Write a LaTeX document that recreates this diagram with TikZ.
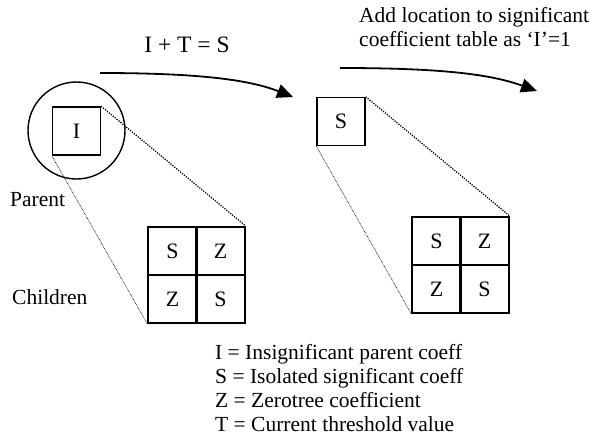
\documentclass[tikz,border=0pt]{standalone}
\usepackage{fontspec}
\setmainfont{Liberation Serif}
\usetikzlibrary{arrows.meta}
\begin{document}
\begin{tikzpicture}[x=1pt,y=-1pt,
  txt/.style={font=\fontsize{21.5}{24}\selectfont, inner sep=0pt},
  sq/.style={draw, line width=1.4pt, minimum size=48pt, inner sep=0pt, font=\fontsize{22}{22}\selectfont},
  cell/.style={draw, line width=1.7pt, minimum size=48.5pt, inner sep=0pt, font=\fontsize{22}{22}\selectfont},
  bigdot/.style={line width=1.3pt, dash pattern=on 1.2pt off 1.3pt},
  thindot/.style={line width=0.6pt, dash pattern=on 0.7pt off 0.8pt},
  flow/.style={line width=1.8pt, -{Triangle[length=16pt,width=14pt]}}]
\useasboundingbox (0,0) rectangle (593,442);
% left
\node[draw, circle, line width=1.4pt, minimum size=97pt, inner sep=0pt] (circ) at (76.5,130.5) {};
\node[sq] (sqI) at (76.5,131) {I};
\node[cell] (a11) at (172.5,251) {S};
\node[cell] (a12) at (220.5,251) {Z};
\node[cell] (a21) at (172.5,299) {Z};
\node[cell] (a22) at (220.5,299) {S};
\draw[bigdot] (sqI.north east) -- (a12.north east);
\draw[thindot] (sqI.south west) -- (a21.south west);
\node[txt, anchor=west] (parent) at (10,200) {Parent};
\node[txt, anchor=west] (children) at (12,297) {Children};
% right
\node[sq] (sqS) at (341,121.5) {S};
\node[cell] (b11) at (436.5,241) {S};
\node[cell] (b12) at (484.5,241) {Z};
\node[cell] (b21) at (436.5,289) {Z};
\node[cell] (b22) at (484.5,289) {S};
\draw[bigdot] (sqS.north east) -- (b12.north east);
\draw[thindot] (sqS.south west) -- (b21.south west);
% arrows
\coordinate (s1) at (100,73);
\coordinate (e1) at (293,97);
\draw[flow] (s1) .. controls (200,73) and (250,80) .. (e1);
\coordinate (s2) at (340,68);
\coordinate (e2) at (537,91);
\draw[flow] (s2) .. controls (440,68) and (490,74) .. (e2);
\node[font=\fontsize{23.5}{24}\selectfont, inner sep=0pt] (eq) at (187,45) {I + T = S};
\node[txt, anchor=north west, align=left] (add) at (359,7) {Add location to significant\\coefficient table as ‘I’=1};
\node[txt, anchor=north west, align=left] (legend) at (215,344) {I = Insignificant parent coeff\\S = Isolated significant coeff\\Z = Zerotree coefficient\\T = Current threshold value};
\end{tikzpicture}
\end{document}
